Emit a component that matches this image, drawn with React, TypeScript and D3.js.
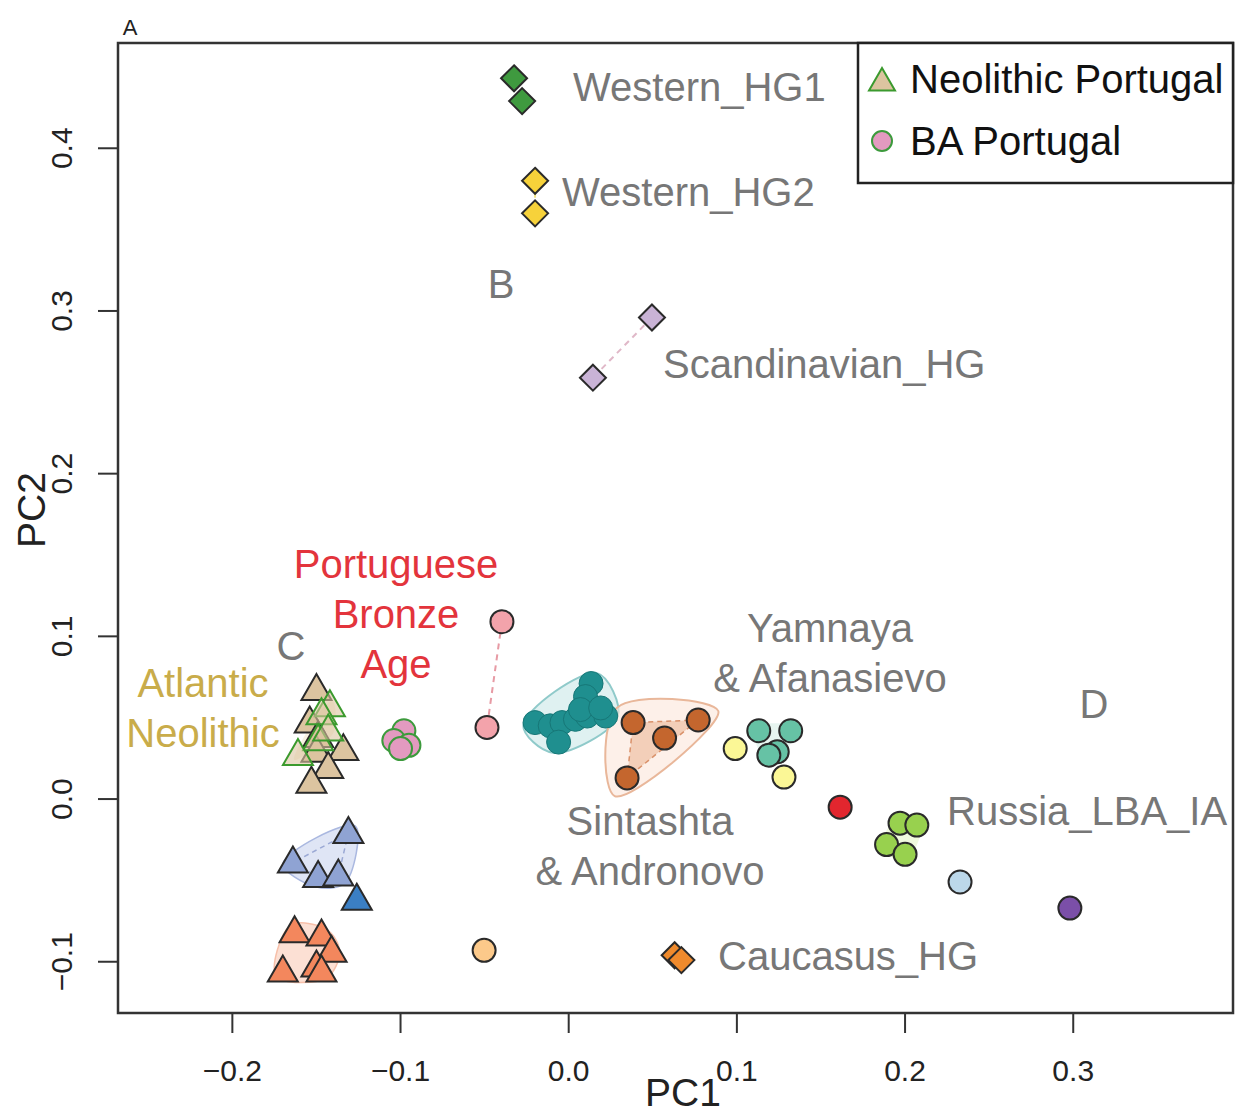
import React from "react";
import * as d3 from "d3";

type P = [number, number];

// ---- data (PC1, PC2) ----
const westernHG1: P[] = [[-0.0325, 0.443], [-0.0277, 0.429]];
const westernHG2: P[] = [[-0.020, 0.380], [-0.020, 0.360]];
const scandinavianHG: P[] = [[0.0495, 0.296], [0.0144, 0.259]];
const caucasusHG: P[] = [[0.063, -0.096], [0.067, -0.099]];

const atlanticNeolithic: P[] = [[-0.150, 0.067], [-0.154, 0.047], [-0.149, 0.038], [-0.134, 0.030], [-0.150, 0.029], [-0.143, 0.019], [-0.153, 0.010]];
const neolithicPortugal: P[] = [[-0.142, 0.057], [-0.147, 0.052], [-0.149, 0.036], [-0.161, 0.027], [-0.143, 0.042]];
const blueTri: P[] = [[-0.131, -0.021], [-0.164, -0.039], [-0.149, -0.048], [-0.137, -0.047]];
const darkBlueTri: P[] = [[-0.126, -0.062]];
const orangeTri: P[] = [[-0.163, -0.082], [-0.147, -0.084], [-0.141, -0.094], [-0.170, -0.106], [-0.150, -0.103], [-0.147, -0.106]];

const baPortugal: P[] = [[-0.098, 0.042], [-0.104, 0.036], [-0.095, 0.033], [-0.100, 0.031]];
const portugueseBA: P[] = [[-0.0397, 0.109], [-0.0486, 0.044]];
const paleOrange: P[] = [[-0.0503, -0.093]];
const tealCluster: P[] = [[-0.020, 0.047], [-0.011, 0.045], [-0.004, 0.047], [0.004, 0.049], [0.011, 0.051], [0.022, 0.051], [0.0133, 0.071], [0.010, 0.063], [-0.006, 0.035], [0.007, 0.055], [0.019, 0.056]];
const brownCluster: P[] = [[0.0383, 0.047], [0.057, 0.0375], [0.077, 0.0486], [0.0347, 0.013]];
const yellowCircles: P[] = [[0.099, 0.031], [0.128, 0.0135]];
const mintCircles: P[] = [[0.113, 0.042], [0.132, 0.042], [0.124, 0.029], [0.119, 0.027]];
const redCircle: P[] = [[0.1614, -0.005]];
const limeCircles: P[] = [[0.197, -0.0148], [0.207, -0.016], [0.189, -0.028], [0.200, -0.034]];
const lightBlueCircle: P[] = [[0.2327, -0.051]];
const purpleCircle: P[] = [[0.298, -0.067]];

const xTicks = [-0.2, -0.1, 0.0, 0.1, 0.2, 0.3];
const yTicks = [-0.1, 0.0, 0.1, 0.2, 0.3, 0.4];

const W = 1235, H = 1113;
const L = 118, R = 1233, T = 43, B = 1013;
const x = d3.scaleLinear().domain([-0.2680, 0.3950]).range([L, R]);
const y = d3.scaleLinear().domain([-0.1315, 0.4647]).range([B, T]);

const FONT = "'Liberation Sans', Arial, Helvetica, sans-serif";
const GRAY = "#777777";
const STROKE = "#2a2a2a";

const triPath = (cx: number, cy: number, s = 15) => {
  const h = s * 1.732;
  return `M${cx},${cy - h * 0.62}L${cx + s},${cy + h * 0.38}L${cx - s},${cy + h * 0.38}Z`;
};
const diamondPath = (cx: number, cy: number, s = 13) =>
  `M${cx},${cy - s}L${cx + s},${cy}L${cx},${cy + s}L${cx - s},${cy}Z`;

function hullShape(pts: P[], pad: number) {
  const px = pts.map(([a, b]) => [x(a), y(b)] as [number, number]);
  const hull = d3.polygonHull(px) || px;
  const c = d3.polygonCentroid(hull);
  const exp = hull.map(([a, b]) => {
    const dx = a - c[0], dy = b - c[1];
    const len = Math.hypot(dx, dy) || 1;
    return [a + (dx / len) * pad, b + (dy / len) * pad] as [number, number];
  });
  return d3.line().curve(d3.curveCatmullRomClosed.alpha(0.5))(exp) || "";
}
function hullPoly(pts: P[]) {
  const px = pts.map(([a, b]) => [x(a), y(b)] as [number, number]);
  const hull = d3.polygonHull(px) || px;
  return "M" + hull.map((p) => p.join(",")).join("L") + "Z";
}

const Circles = ({ data, fill, stroke = STROKE, r = 11.5, sw = 2 }: any) => (
  <g>
    {data.map((d: P, i: number) => (
      <circle key={i} cx={x(d[0])} cy={y(d[1])} r={r} fill={fill} stroke={stroke} strokeWidth={sw} />
    ))}
  </g>
);
const Tris = ({ data, fill, stroke = STROKE, sw = 2, op = 1 }: any) => (
  <g>
    {data.map((d: P, i: number) => (
      <path key={i} d={triPath(x(d[0]), y(d[1]))} fill={fill} stroke={stroke} strokeWidth={sw} fillOpacity={op} />
    ))}
  </g>
);
const Diamonds = ({ data, fill }: any) => (
  <g>
    {data.map((d: P, i: number) => (
      <path key={i} d={diamondPath(x(d[0]), y(d[1]))} fill={fill} stroke={STROKE} strokeWidth={2} />
    ))}
  </g>
);

const Label = ({ tx, ty, text, color = GRAY, anchor = "start", size = 40 }: any) => (
  <text x={tx} y={ty} fill={color} fontSize={size} textAnchor={anchor} fontFamily={FONT}>{text}</text>
);

export default function App() {
  const dashLine = (pts: P[], color: string) => (
    <line x1={x(pts[0][0])} y1={y(pts[0][1])} x2={x(pts[1][0])} y2={y(pts[1][1])} stroke={color} strokeWidth={2} strokeDasharray="6,5" />
  );
  return (
    <div style={{ position: "absolute", left: 0, top: 0 }}>
      <svg width={W} height={H} style={{ display: "block", background: "#fff" }}>
        {/* hulls */}
        <path d={hullShape(blueTri, 10)} fill="#c9d3ee" fillOpacity={0.6} stroke="#aab8e0" strokeWidth={1.5} />
        <path d={hullPoly(blueTri)} fill="none" stroke="#9aa8d4" strokeWidth={1.5} strokeDasharray="5,4" />
        <path d={hullShape(orangeTri, 8)} fill="#fbd3c2" fillOpacity={0.7} stroke="#f7c0aa" strokeWidth={1.5} />
        <path d={hullShape(tealCluster, 12)} fill="#bfe3e3" fillOpacity={0.5} stroke="#8fcaca" strokeWidth={2} />
        <path d={hullShape(brownCluster, 22)} fill="#fbe6da" fillOpacity={0.6} stroke="#e9b79a" strokeWidth={2} />
        <path d={hullPoly(brownCluster)} fill="#eec0a4" fillOpacity={0.7} stroke="#d9916a" strokeWidth={1.5} strokeDasharray="5,4" />
        <path d={hullShape(mintCircles, 6)} fill="#d7efe6" fillOpacity={0.6} stroke="none" />
        <path d={hullShape(limeCircles, 6)} fill="#e6f5c8" fillOpacity={0.6} stroke="none" />
        <path d={hullShape(neolithicPortugal, 6)} fill="#f1e3c4" fillOpacity={0.5} stroke="none" />
        {dashLine(scandinavianHG, "#e0b8c8")}
        {dashLine(portugueseBA, "#e79aa4")}
        {dashLine(westernHG2, "#f6e88a")}

        {/* points */}
        <Diamonds data={westernHG1} fill="#3f9a3f" />
        <Diamonds data={westernHG2} fill="#f7d23a" />
        <Diamonds data={scandinavianHG} fill="#c9b3d6" />
        <Diamonds data={caucasusHG} fill="#ef8a2c" />

        <Tris data={atlanticNeolithic} fill="#dcc4a0" />
        <Tris data={neolithicPortugal} fill="#dcc4a0" stroke="#3b9a2e" op={0.6} />
        <Tris data={blueTri} fill="#8fa3d3" />
        <Tris data={darkBlueTri} fill="#3b7fc4" />
        <Tris data={orangeTri} fill="#f3875d" />

        <Circles data={baPortugal} fill="#e39ac0" stroke="#3c9a3c" />
        <Circles data={portugueseBA} fill="#f3a3ab" />
        <Circles data={paleOrange} fill="#fcc98a" />
        <Circles data={tealCluster} fill="#1f8f8f" stroke="#177777" r={12} sw={1} />
        <Circles data={brownCluster} fill="#c4662e" />
        <Circles data={mintCircles} fill="#66c2a5" />
        <Circles data={yellowCircles} fill="#fbf796" />
        <Circles data={redCircle} fill="#e2262e" />
        <Circles data={limeCircles} fill="#98d14e" />
        <Circles data={lightBlueCircle} fill="#bcd8ea" />
        <Circles data={purpleCircle} fill="#7b4fa8" />

        {/* labels */}
        <Label tx={573} ty={101} text="Western_HG1" />
        <Label tx={562} ty={206} text="Western_HG2" />
        <Label tx={501} ty={298} text="B" anchor="middle" />
        <Label tx={663} ty={378} text="Scandinavian_HG" />
        <Label tx={396} ty={578} text="Portuguese" color="#e3343c" anchor="middle" />
        <Label tx={396} ty={628} text="Bronze" color="#e3343c" anchor="middle" />
        <Label tx={396} ty={678} text="Age" color="#e3343c" anchor="middle" />
        <Label tx={291} ty={660} text="C" anchor="middle" />
        <Label tx={203} ty={697} text="Atlantic" color="#c9ac4a" anchor="middle" />
        <Label tx={203} ty={747} text="Neolithic" color="#c9ac4a" anchor="middle" />
        <Label tx={830} ty={642} text="Yamnaya" anchor="middle" />
        <Label tx={830} ty={692} text="& Afanasievo" anchor="middle" />
        <Label tx={1094} ty={718} text="D" anchor="middle" />
        <Label tx={650} ty={835} text="Sintashta" anchor="middle" />
        <Label tx={650} ty={885} text="& Andronovo" anchor="middle" />
        <Label tx={947} ty={825} text="Russia_LBA_IA" />
        <Label tx={718} ty={970} text="Caucasus_HG" />

        {/* frame */}
        <rect x={L} y={T} width={R - L} height={B - T} fill="none" stroke="#333" strokeWidth={2.5} />

        {/* axes */}
        {xTicks.map((t) => (
          <g key={"x" + t}>
            <line x1={x(t)} x2={x(t)} y1={B} y2={B + 20} stroke="#333" strokeWidth={2} />
            <text x={x(t)} y={1081} fontSize={30} textAnchor="middle" fontFamily={FONT} fill="#222">
              {t < 0 ? "\u2212" + Math.abs(t).toFixed(1) : t.toFixed(1)}
            </text>
          </g>
        ))}
        {yTicks.map((t) => (
          <g key={"y" + t}>
            <line x1={L - 20} x2={L} y1={y(t)} y2={y(t)} stroke="#333" strokeWidth={2} />
            <text transform={`translate(72,${y(t)}) rotate(-90)`} fontSize={30} textAnchor="middle" fontFamily={FONT} fill="#222">
              {t < 0 ? "\u2212" + Math.abs(t).toFixed(1) : t.toFixed(1)}
            </text>
          </g>
        ))}
        <text x={683} y={1106} fontSize={39} textAnchor="middle" fontFamily={FONT} fill="#222">PC1</text>
        <text transform={`translate(45,510) rotate(-90)`} fontSize={39} textAnchor="middle" fontFamily={FONT} fill="#222">PC2</text>
        <text x={130} y={35} fontSize={22} textAnchor="middle" fontFamily={FONT} fill="#222">A</text>

        {/* legend */}
        <rect x={858} y={43} width={375} height={140} fill="#fff" stroke="#222" strokeWidth={2.5} />
        <path d={triPath(882, 82, 13)} fill="#dcc4a0" stroke="#3b9a2e" strokeWidth={2} />
        <text x={910} y={93} fontSize={40} fontFamily={FONT} fill="#111">Neolithic Portugal</text>
        <circle cx={882} cy={141} r={10} fill="#e39ac0" stroke="#3c9a3c" strokeWidth={2} />
        <text x={910} y={155} fontSize={40} fontFamily={FONT} fill="#111">BA Portugal</text>
      </svg>
    </div>
  );
}
